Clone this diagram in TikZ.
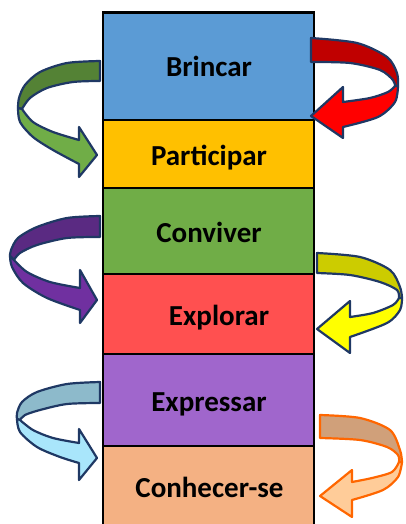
\documentclass[tikz,border=0pt]{standalone}
\usepackage{fontspec}
\setmainfont{Carlito}
\definecolor{cBrin}{HTML}{5B9BD5}
\definecolor{cPart}{HTML}{FFC000}
\definecolor{cConv}{HTML}{70AD47}
\definecolor{cExpl}{HTML}{FF5050}
\definecolor{cExpr}{HTML}{A066CC}
\definecolor{cConh}{HTML}{F4B183}
\definecolor{navy}{HTML}{1F3864}
\definecolor{gDark}{HTML}{548235}
\definecolor{gLight}{HTML}{70AD47}
\definecolor{rDark}{HTML}{C00000}
\definecolor{rLight}{HTML}{FF0000}
\definecolor{pDark}{HTML}{5A2A82}
\definecolor{pLight}{HTML}{7030A0}
\definecolor{yDark}{HTML}{CCCC00}
\definecolor{yLight}{HTML}{FFFF00}
\definecolor{bDark}{HTML}{8DBACB}
\definecolor{bLight}{HTML}{A9E6FB}
\definecolor{oDark}{HTML}{D0A07A}
\definecolor{oLight}{HTML}{FFCC99}
\definecolor{oLine}{HTML}{FF6600}
\begin{document}
\begin{tikzpicture}[x=1pt,y=-1pt,
  boxline/.style={draw=black,line width=2.8pt},
  lbl/.style={anchor=base,inner sep=0pt,font=\fontsize{29}{34}\selectfont\bfseries},
  arr/.style={draw=navy,line width=2.2pt,line join=round},
  oarr/.style={draw=oLine,line width=2.2pt,line join=round}]
\useasboundingbox (0,0) rectangle (405,524);
\clip (0,0) rectangle (405,524);
% boxes
\fill[cBrin] (103,12.7) rectangle (314,120);
\fill[cPart] (103,120) rectangle (314,188);
\fill[cConv] (103,188) rectangle (314,274);
\fill[cExpl] (103,274) rectangle (314,354);
\fill[cExpr] (103,354) rectangle (314,446);
\fill[cConh] (103,446) rectangle (314,530);
\draw[boxline] (103,530) -- (103,12.7) -- (314,12.7) -- (314,530);
\draw[boxline] (103,120) -- (314,120);
\draw[boxline] (103,188) -- (314,188);
\draw[boxline] (103,274) -- (314,274);
\draw[boxline] (103,354) -- (314,354);
\draw[boxline] (103,446) -- (314,446);
% labels
\node[lbl] (t1) at (209,76.7) {Brincar};
\node[lbl] (t2) at (209,165) {Participar};
\node[lbl] (t3) at (209,242) {Conviver};
\node[lbl] (t4) at (219,325) {Explorar};
\node[lbl] (t5) at (209,411) {Expressar};
\node[lbl] (t6) at (209.5,497) {Conhecer-se};
% green arrow (left)
\filldraw[arr,fill=gDark] plot[smooth] coordinates {(100,61) (67,63) (40,72) (25,85) (19,98) (18,108)}
  -- plot[smooth] coordinates {(22,109) (30,98) (47,88) (73,82) (100,81)} -- cycle;
\filldraw[arr,fill=gLight] plot[smooth] coordinates {(18,108) (20,122) (33,137) (53,150) (79,164)}
  -- (79,177) -- (97,155) -- (79,127)
  -- plot[smooth] coordinates {(79,140) (53,132) (33,122) (22,109)} -- cycle;
% purple arrow (left)
\filldraw[arr,fill=pDark] plot[smooth] coordinates {(100,216) (67,218) (37,227) (18,238) (11,250) (10,256)}
  -- plot[smooth] coordinates {(14,260) (20,253) (37,245) (67,238) (100,237)} -- cycle;
\filldraw[arr,fill=pLight] plot[smooth] coordinates {(10,256) (12,267) (23,283) (47,298) (80,310)}
  -- (80,323) -- (97,300) -- (80,270)
  -- plot[smooth] coordinates {(80,288) (50,282) (27,272) (14,260)} -- cycle;
% light blue arrow (left)
\filldraw[arr,fill=bDark] plot[smooth] coordinates {(100,382) (67,384) (37,392) (22,402) (17,413) (17,419)}
  -- plot[smooth] coordinates {(20,420) (25,415) (40,410) (67,404) (100,403)} -- cycle;
\filldraw[arr,fill=bLight] plot[smooth] coordinates {(17,419) (20,432) (37,447) (60,457) (79,463)}
  -- (79,480) -- (97,458) -- (79,429)
  -- plot[smooth] coordinates {(79,443) (53,438) (33,430) (20,420)} -- cycle;
% red arrow (right)
\filldraw[arr,fill=rDark] plot[smooth] coordinates {(311,38) (357,43) (387,57) (397,73) (398,86)}
  -- plot[smooth] coordinates {(395,86) (393,80) (380,70) (350,63) (311,62)} -- cycle;
\filldraw[arr,fill=rLight] plot[smooth] coordinates {(398,86) (395,102) (378,117) (343,127)}
  -- (343,138) -- (311,116) -- (343,87)
  -- plot[smooth] coordinates {(343,102) (370,98) (388,92) (395,86)} -- cycle;
% yellow arrow (right)
\filldraw[arr,fill=yDark] plot[smooth] coordinates {(317,253) (360,257) (390,270) (400,287) (402,298)}
  -- plot[smooth] coordinates {(399,298) (397,290) (380,282) (350,275) (317,273)} -- cycle;
\filldraw[arr,fill=yLight] plot[smooth] coordinates {(402,298) (400,310) (387,323) (350,337)}
  -- (350,353) -- (317,329) -- (350,301)
  -- plot[smooth] coordinates {(350,317) (373,313) (393,305) (399,298)} -- cycle;
% orange arrow (right)
\filldraw[oarr,fill=oDark] plot[smooth] coordinates {(320,415) (360,418) (390,430) (400,450) (402,462)}
  -- plot[smooth] coordinates {(399,462) (398,455) (387,447) (360,440) (320,438)} -- cycle;
\filldraw[oarr,fill=oLight] plot[smooth] coordinates {(402,462) (398,477) (383,490) (352,500)}
  -- (352,517) -- (320,496) -- (352,470)
  -- plot[smooth] coordinates {(352,482) (372,478) (392,472) (399,462)} -- cycle;
\end{tikzpicture}
\end{document}
